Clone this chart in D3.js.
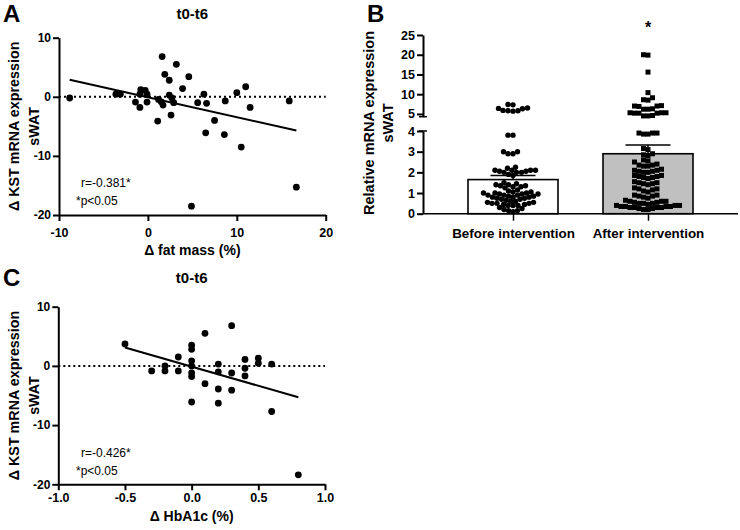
<!DOCTYPE html>
<html><head><meta charset="utf-8">
<script src="https://cdn.jsdelivr.net/npm/d3@7"></script>
<style>
body{margin:0;background:#fff}
svg{display:block}
text{font-family:"Liberation Sans",Arial,Helvetica,sans-serif;fill:#000}
</style>
</head><body>
<svg id="c" width="740" height="530"></svg>
<script>
// ---------- Panel A data: Δ fat mass (%) vs Δ KST mRNA expression ----------
const fatMassA = [-8.8,-3.6,-3.1,-0.8,-0.3,-0.9,-0.1,-1.4,-0.9,-0.1,1.2,1.5,1.7,1.6,3.2,1.9,2.4,4.6,3.9,2.4,2.7,2.9,1.1,2.6,5.6,6.3,6.6,6.5,7.5,8.7,8.6,10.0,11.0,11.5,10.5,15.9,16.7,4.9];
const kstA     = [-0.2,0.45,0.45,1.2,1.1,0.45,0.45,-0.9,-1.8,-0.9,-0.45,-0.85,-1.4,6.8,5.5,3.8,2.8,3.4,1.4,0.3,-0.2,-1.0,-4.1,-3.1,-1.0,0.45,-1.1,-6.1,-4.0,-0.7,-6.4,0.7,1.7,-1.8,-8.5,-0.7,-15.3,-18.5];
const fitAx = [-8.8, 16.7];
const fitAy = [2.9, -5.7];
const xTicksA = [-10, 0, 10, 20];
const yTicksA = [-20, -10, 0, 10];

// ---------- Panel C data: Δ HbA1c (%) vs Δ KST mRNA expression ----------
const hba1cC = [-0.5,-0.3,-0.2,-0.2,-0.1,-0.1,0,0,0,0,0,0,0,0.1,0.1,0.2,0.2,0.2,0.2,0.3,0.3,0.3,0.4,0.4,0.4,0.5,0.5,0.6,0.6,0.8];
const kstC   = [3.7,-0.85,0,-0.85,1.5,-0.85,3.5,2.8,0.85,0,-1.2,-1.8,-6.1,5.5,-3.0,0.3,-1.0,-3.9,-6.3,6.8,-1.2,-4.1,1.1,-0.4,-1.7,1.3,0.45,0.3,-7.7,-18.4];
const fitCx = [-0.5, 0.8];
const fitCy = [3.1, -5.3];
const xTicksC = [-1.0, -0.5, 0.0, 0.5, 1.0];
const yTicksC = [-20, -10, 0, 10];

// ---------- Panel B data: relative mRNA expression sWAT ----------
const categoriesB = ["Before intervention", "After intervention"];
const meansB = [1.65, 2.9];
const semB = [0.2, 0.42];
const beforeVals = [7.4,7.3,6.5,6.4,6.3,5.9,5.8,5.8,5.7,
  3.8,3.8,3.0,2.9,2.9,3.0,
  2.25,2.2,2.1,2.1,2.1,2.05,2.05,2.0,2.0,2.0,2.1,1.9,1.85,
  1.5,1.45,1.4,1.4,1.35,1.35,1.3,1.3,1.25,
  1.15,1.1,1.05,1.05,1.0,1.0,1.0,0.95,0.95,0.95,0.9,0.9,0.9,0.85,0.85,0.8,0.8,0.8,0.75,0.75,0.7,0.7,
  0.65,0.6,0.6,0.55,0.55,0.5,0.5,0.5,0.45,0.45,0.4,0.4,0.4,
  0.3,0.25,0.2,0.15,0.15,0.1];
const afterVals = [20.0,19.9,15.6,10.4,9.1,8.6,8.5,7.1,7.0,7.0,6.9,6.3,6.2,6.2,5.3,5.3,5.2,5.2,5.3,5.2,4.6,4.5,4.5,
  3.9,3.9,3.9,3.85,3.85,3.15,3.1,2.9,2.85,2.8,2.6,2.55,2.5,
  2.4,2.35,2.35,2.3,2.3,2.15,2.1,2.1,2.05,2.05,2.0,2.0,
  1.85,1.85,1.8,1.8,1.75,1.75,1.7,1.55,1.5,1.5,1.45,1.45,1.4,
  1.25,1.2,1.2,1.15,1.1,1.05,0.9,0.9,0.85,0.85,0.8,0.75,
  0.65,0.6,0.6,0.6,0.55,0.55,0.5,0.5,0.5,0.45,
  0.4,0.4,0.4,0.35,0.35,0.35,0.35,0.3,0.3,0.3,0.3,0.25,0.25,0.2,0.2];
const yTicksBLow = [0, 1, 2, 3, 4];
const yTicksBUp = [5, 10, 15, 20, 25];

const svg = d3.select("#c");

function styleAxis(g) {
  g.select(".domain").attr("stroke", "#000").attr("stroke-width", 2);
  g.selectAll(".tick line").attr("stroke", "#000").attr("stroke-width", 2);
  g.selectAll(".tick text").attr("font-weight", "bold").attr("fill", "#000")
    .style("font-family", '"Liberation Sans",Arial,sans-serif');
}

function rotLabel(x, y, txt, size) {
  svg.append("text").attr("transform", `translate(${x},${y}) rotate(-90)`)
    .attr("text-anchor", "middle").attr("font-weight", "bold").attr("font-size", size).text(txt);
}

function scatterPanel(o) {
  const x = d3.scaleLinear().domain(o.xDom).range(o.xRange);
  const y = d3.scaleLinear().domain(o.yDom).range(o.yRange);
  svg.append("line").attr("x1", x(o.xDom[0])).attr("x2", x(o.xDom[1]))
    .attr("y1", y(0)).attr("y2", y(0))
    .attr("stroke", "#000").attr("stroke-width", 2).attr("stroke-dasharray", "2,3");
  const gx = svg.append("g").attr("transform", `translate(0,${o.yRange[0]})`)
    .call(d3.axisBottom(x).tickValues(o.xTicks).tickSize(6).tickSizeOuter(0).tickPadding(o.xPad).tickFormat(o.xFmt));
  styleAxis(gx);
  gx.selectAll(".tick text").attr("font-size", 12.5);
  const gy = svg.append("g").attr("transform", `translate(${o.xRange[0]},0)`)
    .call(d3.axisLeft(y).tickValues(o.yTicks).tickSize(6).tickSizeOuter(0).tickPadding(2).tickFormat(d => String(d)));
  styleAxis(gy);
  gy.selectAll(".tick text").attr("font-size", 12);
  svg.append("line").attr("x1", x(o.fitX[0])).attr("y1", y(o.fitY[0]))
    .attr("x2", x(o.fitX[1])).attr("y2", y(o.fitY[1]))
    .attr("stroke", "#000").attr("stroke-width", 2);
  svg.append("g").selectAll("circle").data(o.xs).join("circle")
    .attr("cx", d => x(d)).attr("cy", (d, i) => y(o.ys[i])).attr("r", 3.4).attr("fill", "#000");
  svg.append("text").attr("x", (o.xRange[0] + o.xRange[1]) / 2).attr("y", o.titleY)
    .attr("text-anchor", "middle").attr("font-weight", "bold").attr("font-size", 15).text("t0-t6");
  svg.append("text").attr("x", 3).attr("y", o.letterY).attr("font-weight", "bold").attr("font-size", 24).text(o.letter);
  svg.append("text").attr("x", (o.xRange[0] + o.xRange[1]) / 2).attr("y", o.xLabY)
    .attr("text-anchor", "middle").attr("font-weight", "bold").attr("font-size", 14).text(o.xLab);
  const cy = (o.yRange[0] + o.yRange[1]) / 2;
  rotLabel(18.5, cy, "Δ KST mRNA expression", 14.3);
  rotLabel(39, cy, "sWAT", 14.3);
  svg.append("text").attr("x", o.annX).attr("y", o.annY).attr("font-size", 12).text(o.r);
  svg.append("text").attr("x", o.annX - 5).attr("y", o.annY + 18).attr("font-size", 12).text("*p<0.05");
}

scatterPanel({xDom: [-10, 20], xRange: [59, 325.7], yDom: [-20, 10], yRange: [215, 37.7],
  xTicks: xTicksA, yTicks: yTicksA, xFmt: d => String(d), xPad: 7, fitX: fitAx, fitY: fitAy, xs: fatMassA, ys: kstA,
  titleY: 19, letter: "A", letterY: 22, xLab: "Δ fat mass (%)", xLabY: 255, annX: 81, annY: 187, r: "r=-0.381*"});

scatterPanel({xDom: [-1, 1], xRange: [58.3, 325], yDom: [-20, 10], yRange: [484.3, 306.7],
  xTicks: xTicksC, yTicks: yTicksC, xFmt: d => d.toFixed(1), xPad: 3, fitX: fitCx, fitY: fitCy, xs: hba1cC, ys: kstC,
  titleY: 283, letter: "C", letterY: 286, xLab: "Δ HbA1c (%)", xLabY: 521, annX: 81, annY: 457, r: "r=-0.426*"});

// ---------- Panel B ----------
const axX = 423;
const yLow = d3.scaleLinear().domain([0, 4]).range([213.7, 131]);
const yUp = d3.scaleLinear().domain([4.3, 25]).range([116.7, 35]);
const yB = v => v > 4.2 ? yUp(v) : yLow(v);
const xB = d3.scaleBand().domain(categoriesB).range([axX, 738]).paddingInner(1/3).paddingOuter(1/3);

svg.append("g").selectAll("rect").data(categoriesB).join("rect")
  .attr("x", d => xB(d)).attr("width", xB.bandwidth())
  .attr("y", (d, i) => yB(meansB[i])).attr("height", (d, i) => yLow(0) - yB(meansB[i]))
  .attr("fill", (d, i) => i === 0 ? "#fff" : "#c0c0c0").attr("stroke", "#000").attr("stroke-width", 1.6);

categoriesB.forEach((c, i) => {
  const cx = xB(c) + xB.bandwidth() / 2;
  svg.append("line").attr("x1", cx).attr("x2", cx).attr("y1", yB(meansB[i])).attr("y2", yB(meansB[i] + semB[i]))
    .attr("stroke", "#000").attr("stroke-width", 1.5);
  svg.append("line").attr("x1", cx - xB.bandwidth() / 4).attr("x2", cx + xB.bandwidth() / 4)
    .attr("y1", yB(meansB[i] + semB[i])).attr("y2", yB(meansB[i] + semB[i]))
    .attr("stroke", "#000").attr("stroke-width", 1.5);
});

function swarm(vals, cx, minD, square) {
  const pts = vals.map(v => ({v, y: yB(v)})).sort((a, b) => b.y - a.y);
  const placed = [];
  pts.forEach(p => {
    for (let k = 0; k < 800; k++) {
      const off = (k % 2 === 0 ? 1 : -1) * Math.ceil(k / 2) * 0.5;
      const x = cx + off;
      const ok = placed.every(q => square
        ? (Math.abs(q.x - x) >= minD || Math.abs(q.y - p.y) >= minD)
        : ((q.x - x) ** 2 + (q.y - p.y) ** 2 >= minD * minD));
      if (ok) { p.x = x; break; }
    }
    placed.push(p);
  });
  return placed;
}

const c0 = xB(categoriesB[0]) + xB.bandwidth() / 2;
const c1 = xB(categoriesB[1]) + xB.bandwidth() / 2;
const sw0 = swarm(beforeVals, c0, 4.6, false);
const sw1 = swarm(afterVals, c1, 4.5, true);
svg.append("g").selectAll("circle").data(sw0).join("circle")
  .attr("cx", d => d.x).attr("cy", d => d.y).attr("r", 2.7).attr("fill", "#000");
svg.append("g").selectAll("rect").data(sw1).join("rect")
  .attr("x", d => d.x - 2.5).attr("y", d => d.y - 2.5).attr("width", 5).attr("height", 5).attr("fill", "#000");

const gLow = svg.append("g").attr("transform", `translate(${axX},0)`)
  .call(d3.axisLeft(yLow).tickValues(yTicksBLow).tickSize(6).tickSizeOuter(0).tickPadding(2).tickFormat(d => String(d)));
styleAxis(gLow); gLow.selectAll(".tick text").attr("font-size", 12.5);
const gUp = svg.append("g").attr("transform", `translate(${axX},0)`)
  .call(d3.axisLeft(yUp).tickValues(yTicksBUp).tickSize(6).tickSizeOuter(0).tickPadding(2).tickFormat(d => String(d)));
styleAxis(gUp); gUp.selectAll(".tick text").attr("font-size", 12.5);
[yUp(4.3), yLow(4)].forEach(yy => {
  svg.append("line").attr("x1", axX - 4).attr("x2", axX + 4).attr("y1", yy).attr("y2", yy)
    .attr("stroke", "#000").attr("stroke-width", 1.5);
});
const gxB = svg.append("g").attr("transform", `translate(0,${yLow(0)})`)
  .call(d3.axisBottom(d3.scalePoint().domain(categoriesB).range([c0, c1])).tickSize(7).tickSizeOuter(0).tickPadding(8));
gxB.select(".domain").remove();
gxB.selectAll(".tick line").attr("stroke", "#000").attr("stroke-width", 1.5);
gxB.selectAll(".tick text").attr("font-weight", "bold").attr("font-size", 13.4).attr("fill", "#000")
  .style("font-family", '"Liberation Sans",Arial,sans-serif');
svg.append("line").attr("x1", axX).attr("x2", 738).attr("y1", yLow(0)).attr("y2", yLow(0))
  .attr("stroke", "#000").attr("stroke-width", 1.5);

svg.append("text").attr("x", c1).attr("y", 33).attr("text-anchor", "middle").attr("font-weight", "bold").attr("font-size", 16).text("*");
svg.append("text").attr("x", 367).attr("y", 22).attr("font-weight", "bold").attr("font-size", 24).text("B");
rotLabel(374, 123, "Relative mRNA expression", 14.5);
rotLabel(393, 123, "sWAT", 14.5);
</script>
</body></html>
